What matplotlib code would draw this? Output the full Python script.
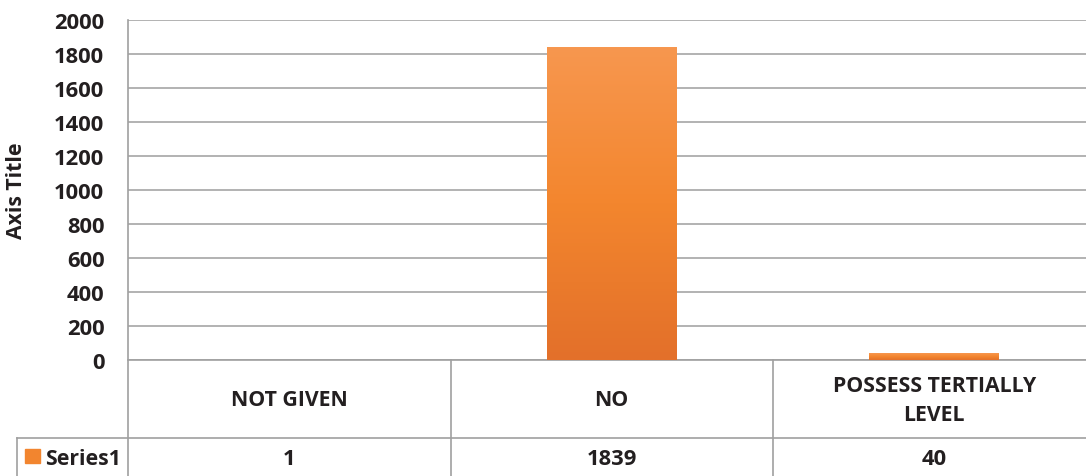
import numpy as np
import matplotlib
matplotlib.use('Agg')
import matplotlib.pyplot as plt
from matplotlib.colors import LinearSegmentedColormap

plt.rcParams['font.family'] = ['Open Sans', 'DejaVu Sans']
plt.rcParams['font.weight'] = 'bold'

# data
categories = ['NOT GIVEN', 'NO', 'POSSESS TERTIALLY\nLEVEL']
values = [1, 1839, 40]
series_name = 'Series1'
yticks = list(range(0, 2001, 200))

W, H = 1086, 477
fig = plt.figure(figsize=(W / 100, H / 100), dpi=100)
# plot area in pixels: left 128, top 21, bottom 361, column width ~322.5
left, top, bottom = 128, 21, 361
width = 3 * 322.5
ax = fig.add_axes([left / W, 1 - bottom / H, width / W, (bottom - top) / H])

txt = '#231F20'
line_c = '#A6A6A6'
fs = 15.8

bars = ax.bar(range(len(values)), values, width=0.403, color='#F2852F', zorder=2)

# gradient fill like Excel
cmap = LinearSegmentedColormap.from_list('og', ['#E3702A', '#F3862E', '#F7974F'])
grad = np.linspace(0, 1, 256).reshape(-1, 1)
for b in bars:
    x0, y0 = b.get_x(), b.get_y()
    w, h = b.get_width(), b.get_height()
    im = ax.imshow(grad, cmap=cmap, origin='lower', aspect='auto',
                   extent=[x0, x0 + w, y0, y0 + h], zorder=3)
    im.set_clip_path(b)

ax.set_xlim(-0.5, 2.5)
ax.set_ylim(0, 2000)
ax.set_yticks(yticks)
ax.set_xticks([])
ax.yaxis.grid(True, color=line_c, linewidth=1.2, zorder=0)
ax.set_axisbelow(True)
for s in ['top', 'right', 'bottom', 'left']:
    ax.spines[s].set_visible(False)
ax.tick_params(axis='y', length=0, pad=17, labelsize=fs, labelcolor=txt)
for lab in ax.get_yticklabels():
    lab.set_fontweight('bold')

ax.set_ylabel('Axis Title', fontsize=fs - 0.5, fontweight='bold', color=txt, va='center')
ax.yaxis.set_label_coords(-(left - 17) / width, 0.5)

# data table below the plot
tr = ax.get_xaxis_transform()
ph = bottom - top
row1 = -(439 - bottom) / ph
ybot = -(H - bottom + 5) / ph
legx = -0.5 - (left - 17) / 322.5

kw = dict(transform=tr, clip_on=False, color='#A0A0A0', linewidth=1.2)
ax.plot([-0.5, -0.5], [1, ybot], **kw)
ax.plot([legx, 2.5], [row1, row1], **kw)
ax.plot([legx, legx], [row1, ybot], **kw)
ax.plot([-0.5, 2.5], [0, 0], **kw)
for xv in [0.5, 1.5]:
    ax.plot([xv, xv], [0, ybot], **kw)

for i, (c, v) in enumerate(zip(categories, values)):
    ax.text(i, -(401 - bottom) / ph, c, transform=tr, ha='center', va='center',
            fontsize=fs - 0.5, fontweight='bold', color=txt, linespacing=1.45)
    ax.text(i, -(460 - bottom) / ph, str(v), transform=tr, ha='center',
            va='center', fontsize=fs, fontweight='bold', color=txt)

# legend key in the table
ax.add_patch(plt.Rectangle((legx + 8 / 322.5, -(464 - bottom) / ph),
                           15 / 322.5, 14 / ph, transform=tr, clip_on=False,
                           color='#F2852F'))
ax.text(legx + 28 / 322.5, -(460 - bottom) / ph, series_name, transform=tr,
        ha='left', va='center', fontsize=fs - 0.5, fontweight='bold', color=txt)

fig.savefig('out.png', dpi=100)
